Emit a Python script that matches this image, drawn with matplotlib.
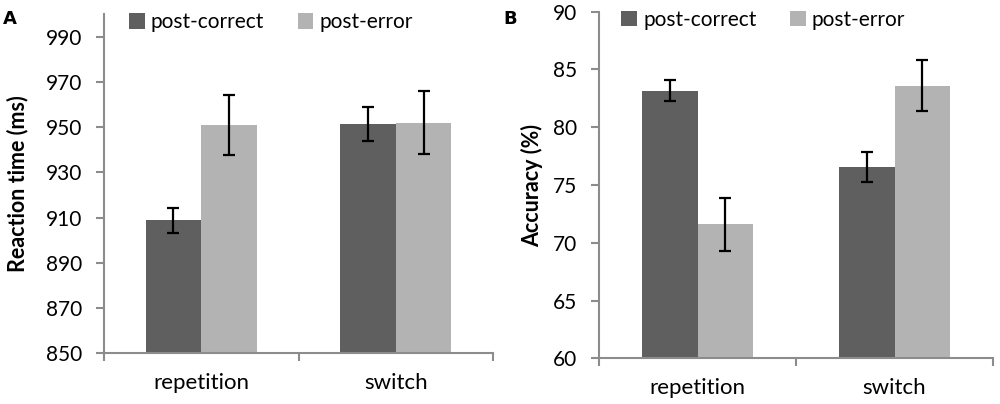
import matplotlib
matplotlib.use("Agg")
import matplotlib.pyplot as plt
import numpy as np

# data
conditions = ["repetition", "switch"]
series = ["post-correct", "post-error"]

rt_correct = [908.7, 951.3]
rt_correct_err = [5.7, 7.6]
rt_error = [951.0, 951.9]
rt_error_err = [13.3, 14.0]

acc_correct = [83.15, 76.6]
acc_correct_err = [0.9, 1.3]
acc_error = [71.6, 83.6]
acc_error_err = [2.3, 2.2]

dark = "#5f5f5f"
light = "#b3b3b3"
axis_col = "#8c8c8c"

plt.rcParams["font.family"] = ["Lato", "DejaVu Sans"]


def draw_panel(ax, vals_a, err_a, vals_b, err_b, ylim, yticks, ylabel, width, leg_x):
    x = np.arange(len(conditions))
    ek = dict(ecolor="black", elinewidth=1.6, capsize=4.5, capthick=1.6)
    ax.bar(x - width / 2, vals_a, width, color=dark, label=series[0],
           yerr=err_a, error_kw=ek, zorder=2)
    ax.bar(x + width / 2, vals_b, width, color=light, label=series[1],
           yerr=err_b, error_kw=ek, zorder=2)

    ax.set_xlim(-0.5, len(conditions) - 0.5)
    ax.set_ylim(*ylim)
    ax.set_yticks(yticks)
    ax.set_xticks(x)
    ax.set_xticklabels(conditions)
    ax.set_xticks(np.arange(-0.5, len(conditions)), minor=True)
    ax.tick_params(axis="x", which="major", length=0, labelsize=16, pad=14)
    ax.tick_params(axis="x", which="minor", length=6, width=1.5, color=axis_col)
    ax.tick_params(axis="y", length=6, width=1.5, color=axis_col, labelsize=15, pad=10)

    for s in ["top", "right"]:
        ax.spines[s].set_visible(False)
    for s in ["left", "bottom"]:
        ax.spines[s].set_color(axis_col)
        ax.spines[s].set_linewidth(1.5)

    ax.set_ylabel(ylabel, fontsize=15.5, fontweight="bold")
    ax.legend(loc="upper left", bbox_to_anchor=(leg_x, 1.06), ncol=2, frameon=False,
              fontsize=15, handlelength=0.75, handleheight=0.75,
              handletextpad=0.3, columnspacing=1.6)


fig = plt.figure(figsize=(10, 4.04), dpi=100)

ax1 = fig.add_axes([0.104, 0.1255, 0.389, 0.84])
draw_panel(ax1, rt_correct, rt_correct_err, rt_error, rt_error_err,
           (850, 1000), np.arange(850, 1000, 20), "Reaction time (ms)", 0.286, 0.016)
ax1.yaxis.set_label_coords(-0.195, 0.5)

ax2 = fig.add_axes([0.599, 0.113, 0.394, 0.858])
draw_panel(ax2, acc_correct, acc_correct_err, acc_error, acc_error_err,
           (60, 90), np.arange(60, 91, 5), "Accuracy (%)", 0.283, 0.009)
ax2.yaxis.set_label_coords(-0.142, 0.5)

fig.text(0.003, 0.975, "A", fontsize=13, fontweight="bold", va="top",
         family=["DejaVu Sans"])
fig.text(0.503, 0.975, "B", fontsize=13, fontweight="bold", va="top",
         family=["DejaVu Sans"])

fig.savefig("out.png", dpi=100)
